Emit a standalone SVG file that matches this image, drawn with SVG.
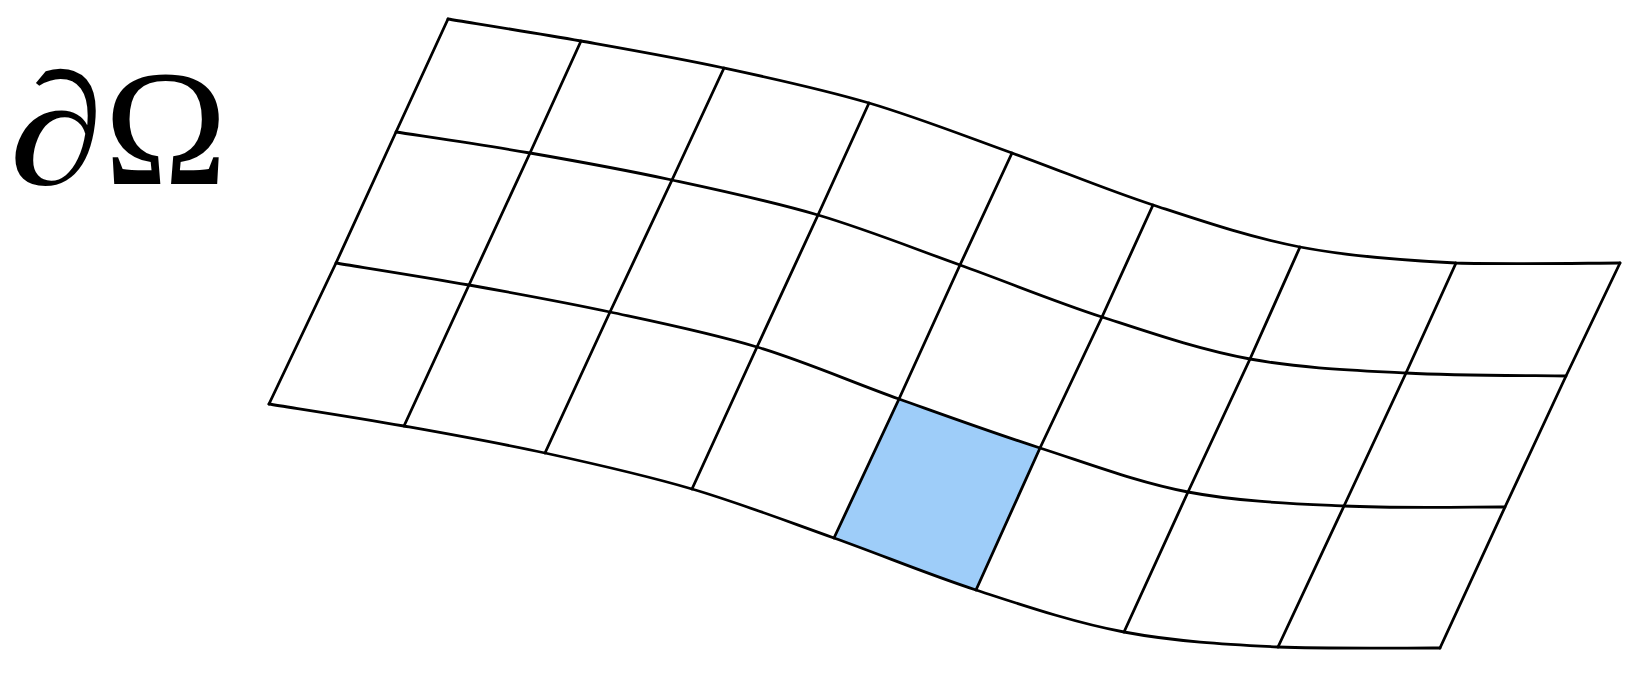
<svg xmlns="http://www.w3.org/2000/svg" width="1642" height="698" viewBox="0 0 1642 698">
<style>
.ln{fill:none;stroke:#000;stroke-width:2.8;stroke-linejoin:round;stroke-linecap:round}
.lbl{font-family:"Liberation Serif","DejaVu Serif",serif;fill:#000}
</style>
<rect width="1642" height="698" fill="#fff"/>
<g id="label">
<text class="lbl" x="0" y="184" font-size="160" font-style="italic" transform="translate(9,0) scale(1.2,1)">∂</text>
<text class="lbl" x="104" y="184" font-size="166">Ω</text>
</g>
<g id="cell-highlight">
<path d="M899,399 C946.2,415.8 991.8,432.5 1040,448 L976,590 C927.7,574.3 881.3,554.8 834,538 Z" fill="#9ecdf9"/>
</g>
<g id="mesh-lines">
<path class="ln" d="M448,19 C470.2,22.7 535,32.8 581,41 C627,49.2 676,57.7 724,68 C772,78.3 821,88.8 869,103 C917,117.2 964.7,136 1012,153 C1059.3,170 1105,189.3 1153,205 C1201,220.7 1249.5,237.3 1300,247 C1350.5,256.7 1402.7,260.3 1456,263 C1509.3,264.5 1592.7,263 1620,263"/>
<path class="ln" d="M396,132 C418.3,135.5 484,145 530,153 C576,161 624,169.7 672,180 C720,190.3 770,200.8 818,215 C866,229.2 912.7,248 960,265 C1007.3,282 1053.7,301.3 1102,317 C1150.3,332.7 1199.3,349.7 1250,359 C1300.7,368.3 1353.3,370.2 1406,373 C1458.7,375.8 1539.3,375.5 1566,376"/>
<path class="ln" d="M336,263 C358.2,266.7 423.3,276.8 469,285 C514.7,293.2 562,301.7 610,312 C658,322.3 708.8,332.5 757,347 C805.2,361.5 851.8,382.2 899,399 C946.2,415.8 991.8,432.5 1040,448 C1088.2,463.5 1137.3,482.3 1188,492 C1238.7,501.7 1291.2,503.5 1344,506 C1396.8,508.5 1478.2,506.8 1505,507"/>
<path class="ln" d="M269,404 C291.5,407.7 358,417.8 404,426 C450,434.2 497,442.5 545,453 C593,463.5 643.8,474.8 692,489 C740.2,503.2 786.7,521.2 834,538 C881.3,554.8 927.7,574.3 976,590 C1024.3,605.7 1073.7,622.5 1124,632 C1174.3,641.5 1225.3,644.3 1278,647 C1330.7,649 1413,647.8 1440,648"/>
<polyline class="ln" points="448,19 396,132 336,263 269,404"/>
<polyline class="ln" points="581,41 530,153 469,285 404,426"/>
<polyline class="ln" points="724,68 672,180 610,312 545,453"/>
<polyline class="ln" points="869,103 818,215 757,347 692,489"/>
<polyline class="ln" points="1012,153 960,265 899,399 834,538"/>
<polyline class="ln" points="1153,205 1102,317 1040,448 976,590"/>
<polyline class="ln" points="1300,247 1250,359 1188,492 1124,632"/>
<polyline class="ln" points="1456,263 1406,373 1344,506 1278,647"/>
<polyline class="ln" points="1620,263 1566,376 1505,507 1440,648"/>
</g>
</svg>
